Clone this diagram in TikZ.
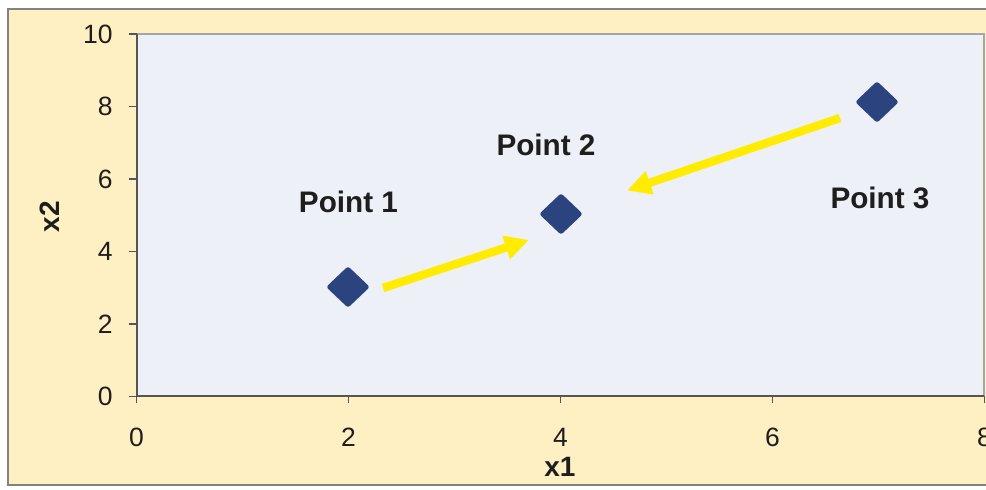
\documentclass[tikz,border=0pt]{standalone}
\usepackage{fontspec}
\setmainfont{Liberation Sans}
\usetikzlibrary{arrows.meta,shapes.geometric}
\definecolor{chartbg}{RGB}{255,240,196}
\definecolor{plotbg}{RGB}{237,240,246}
\definecolor{chartborder}{RGB}{130,130,130}
\definecolor{plotborder}{RGB}{165,165,165}
\definecolor{axiscol}{RGB}{85,85,85}
\definecolor{diamondcol}{RGB}{43,68,128}
\definecolor{arrowyellow}{RGB}{255,236,0}
\definecolor{textcol}{RGB}{30,30,30}
\begin{document}
\begin{tikzpicture}[x=0.5pt,y=-0.5pt,
  marker/.style={diamond, fill=diamondcol, draw=diamondcol, line width=0.8pt, rounded corners=1pt,
    minimum width=21pt, minimum height=20pt, inner sep=0pt},
  ptlabel/.style={font=\bfseries\fontsize{14.85pt}{16pt}\selectfont, text=textcol, inner sep=0pt},
  ticklabel/.style={font=\fontsize{13.25pt}{15pt}\selectfont, text=textcol, inner sep=0pt},
  axtitle/.style={font=\bfseries\fontsize{14pt}{16pt}\selectfont, text=textcol, inner sep=0pt},
  tickmark/.style={draw=axiscol, line width=0.8pt},
  movearrow/.style={draw=arrowyellow, line width=4.2pt,
    -{Triangle[length=12pt,width=11.5pt]}}]
\useasboundingbox (0,0) rectangle (986,490);
\fill[white] (0,0) rectangle (986,490);
\clip (0,0) rectangle (986,490);
% chart area
\draw[chartborder, fill=chartbg, line width=1pt] (8,9) rectangle (1010,485);
% plot area
\fill[plotbg] (136.5,34) rectangle (984,396.5);
\draw[plotborder, line width=0.8pt] (136.5,34) -- (984,34) -- (984,396.5);
\draw[axiscol, line width=1pt] (136.5,34) -- (136.5,396.5) -- (984,396.5);
% y ticks and labels
\foreach \d in {0,2,4,6,8,10}{
  \draw[tickmark] (128.5,{396.5-36.25*\d}) -- (136.5,{396.5-36.25*\d});
  \node[ticklabel, anchor=east] (yl\d) at (113,{396.5-36.25*\d}) {\d};
}
% x ticks and labels
\foreach \d in {0,2,4,6,8}{
  \draw[tickmark] ({136.5+106*\d},396.5) -- ({136.5+106*\d},403);
  \node[ticklabel] (xl\d) at ({136.5+106*\d},437) {\d};
}
% axis titles
\node[axtitle] (xtitle) at (560,466.5) {x1};
\node[axtitle, rotate=90] (ytitle) at (50,216.5) {x2};
% points
\node[marker] (p1) at (348,287) {};
\node[marker] (p2) at (561,214) {};
\node[marker] (p3) at (877,102) {};
% labels
\node[ptlabel] (l1) at (348.5,201.5) {Point 1};
\node[ptlabel] (l2) at (546,145) {Point 2};
\node[ptlabel] (l3) at (880,197.5) {Point 3};
% arrows
\coordinate (a1s) at (383,288);
\coordinate (a1e) at (529,240);
\coordinate (a2s) at (840,118);
\coordinate (a2e) at (627,190.5);
\draw[movearrow] (a1s) -- (a1e);
\draw[movearrow] (a2s) -- (a2e);
\end{tikzpicture}
\end{document}
